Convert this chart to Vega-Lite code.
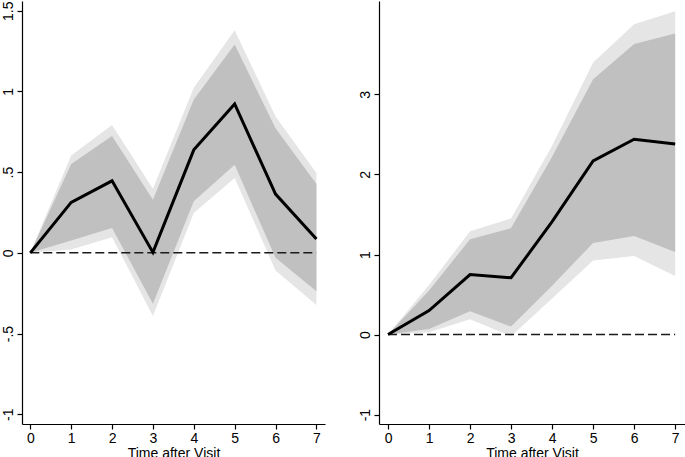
{
  "$schema": "https://vega.github.io/schema/vega-lite/v6.json",
  "autosize": {"type": "pad"},
  "padding": {"left": 0, "top": 0, "right": 0, "bottom": 0},
  "background": "white",
  "bounds": "flush",
  "spacing": 54,
  "datasets": {
    "left": [
      {"t": 0, "b": 0, "lo90": 0, "hi90": 0, "lo95": 0, "hi95": 0},
      {"t": 1, "b": 0.313, "lo90": 0.076, "hi90": 0.551, "lo95": 0.021, "hi95": 0.603},
      {"t": 2, "b": 0.446, "lo90": 0.154, "hi90": 0.724, "lo95": 0.097, "hi95": 0.792},
      {"t": 3, "b": 0.003, "lo90": -0.315, "hi90": 0.329, "lo95": -0.391, "hi95": 0.397},
      {"t": 4, "b": 0.638, "lo90": 0.319, "hi90": 0.95, "lo95": 0.247, "hi95": 1.023},
      {"t": 5, "b": 0.922, "lo90": 0.545, "hi90": 1.29, "lo95": 0.463, "hi95": 1.379},
      {"t": 6, "b": 0.364, "lo90": -0.031, "hi90": 0.772, "lo95": -0.109, "hi95": 0.844},
      {"t": 7, "b": 0.086, "lo90": -0.237, "hi90": 0.426, "lo95": -0.323, "hi95": 0.494}
    ],
    "right": [
      {"t": 0, "b": 0, "lo90": 0, "hi90": 0, "lo95": 0, "hi95": 0},
      {"t": 1, "b": 0.30, "lo90": 0.07, "hi90": 0.55, "lo95": 0.03, "hi95": 0.62},
      {"t": 2, "b": 0.75, "lo90": 0.29, "hi90": 1.19, "lo95": 0.19, "hi95": 1.29},
      {"t": 3, "b": 0.71, "lo90": 0.10, "hi90": 1.33, "lo95": -0.02, "hi95": 1.45},
      {"t": 4, "b": 1.41, "lo90": 0.61, "hi90": 2.22, "lo95": 0.45, "hi95": 2.36},
      {"t": 5, "b": 2.17, "lo90": 1.145, "hi90": 3.19, "lo95": 0.925, "hi95": 3.40},
      {"t": 6, "b": 2.44, "lo90": 1.23, "hi90": 3.63, "lo95": 0.98, "hi95": 3.875},
      {"t": 7, "b": 2.38, "lo90": 1.03, "hi90": 3.76, "lo95": 0.73, "hi95": 4.04}
    ]
  },
  "config": {
    "view": {"stroke": null},
    "axis": {
      "grid": false,
      "domainColor": "#000",
      "domainWidth": 1.2,
      "tickColor": "#000",
      "tickSize": 5,
      "tickWidth": 1.2,
      "labelFont": "Liberation Sans",
      "labelFontSize": 14,
      "labelColor": "#000",
      "titleFont": "Liberation Sans",
      "titleFontSize": 14,
      "titleFontWeight": "normal",
      "titleColor": "#000"
    }
  },
  "hconcat": [
    {
      "width": 303,
      "height": 423,
      "data": {"name": "left"},
      "encoding": {
        "x": {"field": "t", "type": "quantitative", "scale": {"domain": [-0.203, 7.21], "nice": false, "zero": false},
              "axis": {"values": [0, 1, 2, 3, 4, 5, 6, 7], "title": "Time after Visit", "labelPadding": 2, "titlePadding": 1}}
      },
      "layer": [
        {"mark": {"type": "area", "color": "#e5e5e5"},
         "encoding": {"y": {"field": "lo95", "type": "quantitative", "scale": {"domain": [-1.06, 1.56], "nice": false, "zero": false},
                            "axis": {"values": [-1, -0.5, 0, 0.5, 1, 1.5], "title": null, "labelAngle": -90, "labelPadding": 2,
                                     "labelExpr": "(datum.value < 0 ? '-' : '') + replace(toString(abs(datum.value)), '0.', '.')"}},
                      "y2": {"field": "hi95"}}},
        {"mark": {"type": "area", "color": "#c0c0c0"},
         "encoding": {"y": {"field": "lo90", "type": "quantitative", "title": null}, "y2": {"field": "hi90"}}},
        {"mark": {"type": "line", "color": "#1a1a1a", "strokeDash": [9, 4], "strokeWidth": 1.5},
         "encoding": {"y": {"datum": 0, "type": "quantitative"}}},
        {"mark": {"type": "line", "color": "#000", "strokeWidth": 3},
         "encoding": {"y": {"field": "b", "type": "quantitative", "title": null}}}
      ]
    },
    {
      "width": 306,
      "height": 423,
      "data": {"name": "right"},
      "encoding": {
        "x": {"field": "t", "type": "quantitative", "scale": {"domain": [-0.22, 7.24], "nice": false, "zero": false},
              "axis": {"values": [0, 1, 2, 3, 4, 5, 6, 7], "title": "Time after Visit", "labelPadding": 2, "titlePadding": 1}}
      },
      "layer": [
        {"mark": {"type": "area", "color": "#e5e5e5"},
         "encoding": {"y": {"field": "lo95", "type": "quantitative", "scale": {"domain": [-1.1175, 4.167], "nice": false, "zero": false},
                            "axis": {"values": [-1, 0, 1, 2, 3], "title": null, "labelAngle": -90, "labelPadding": 2,
                                     "labelExpr": "(datum.value < 0 ? '-' : '') + toString(abs(datum.value))"}},
                      "y2": {"field": "hi95"}}},
        {"mark": {"type": "area", "color": "#c0c0c0"},
         "encoding": {"y": {"field": "lo90", "type": "quantitative", "title": null}, "y2": {"field": "hi90"}}},
        {"mark": {"type": "line", "color": "#1a1a1a", "strokeDash": [9, 4], "strokeWidth": 1.5},
         "encoding": {"y": {"datum": 0, "type": "quantitative"}}},
        {"mark": {"type": "line", "color": "#000", "strokeWidth": 3},
         "encoding": {"y": {"field": "b", "type": "quantitative", "title": null}}}
      ]
    }
  ]
}
